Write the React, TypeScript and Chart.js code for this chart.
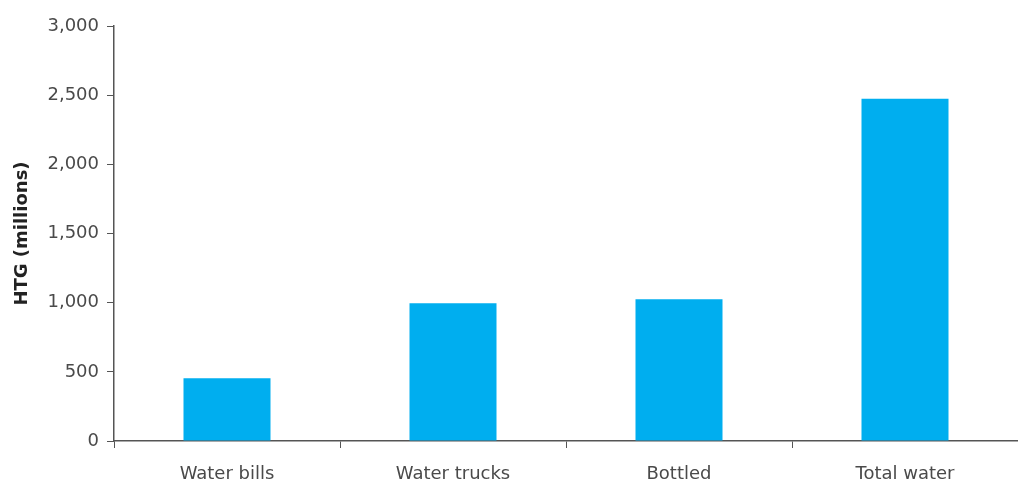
import React, { useEffect, useRef } from "react";
import { Chart, registerables } from "chart.js";

Chart.register(...registerables);

const categories = ["Water bills", "Water trucks", "Bottled", "Total water"];
const values = [454, 995, 1024, 2474];
const yTicks = [0, 500, 1000, 1500, 2000, 2500, 3000];

export default function App() {
  const ref = useRef<HTMLCanvasElement | null>(null);
  useEffect(() => {
    if (!ref.current) return;
    const font = { family: "'DejaVu Sans', sans-serif", size: 18 };
    const chart = new Chart(ref.current, {
      type: "bar",
      data: {
        labels: categories,
        datasets: [
          {
            data: values,
            backgroundColor: "#00AEEF",
            borderWidth: 0,
            categoryPercentage: 1,
            barPercentage: 0.385,
          },
        ],
      },
      options: {
        animation: false,
        responsive: false,
        maintainAspectRatio: false,
        layout: { padding: { top: 26, right: 0, left: 0, bottom: 0 } },
        plugins: { legend: { display: false }, tooltip: { enabled: false } },
        scales: {
          x: {
            offset: true,
            grid: {
              offset: true,
              drawOnChartArea: false,
              drawTicks: true,
              tickLength: 7,
              color: "#555",
            },
            border: { display: true, color: "#555", width: 1.5 },
            ticks: { font, color: "#4a4a4a", padding: 16, maxRotation: 0 },
            afterFit: (s: any) => {
              s.height = 42;
            },
          },
          y: {
            min: 0,
            max: 3000,
            afterBuildTicks: (s: any) => {
              s.ticks = yTicks.map((v) => ({ value: v }));
            },
            grid: {
              drawOnChartArea: false,
              drawTicks: true,
              tickLength: 7,
              color: "#555",
            },
            border: { display: true, color: "#555", width: 1.5 },
            ticks: {
              font,
              color: "#4a4a4a",
              padding: 8,
              callback: (v: any) => Number(v).toLocaleString("en-US"),
            },
            title: {
              display: true,
              text: "HTG (millions)",
              font: { ...font, weight: "bold" },
              color: "#222",
              padding: { top: 12, bottom: 0 },
            },
            afterFit: (s: any) => {
              s.width = 114;
            },
          },
        },
      },
    });
    return () => chart.destroy();
  }, []);
  return (
    <div style={{ position: "fixed", left: 0, top: 0, width: 1018, height: 483 }}>
      <canvas ref={ref} width={1018} height={483} style={{ display: "block" }} />
    </div>
  );
}
